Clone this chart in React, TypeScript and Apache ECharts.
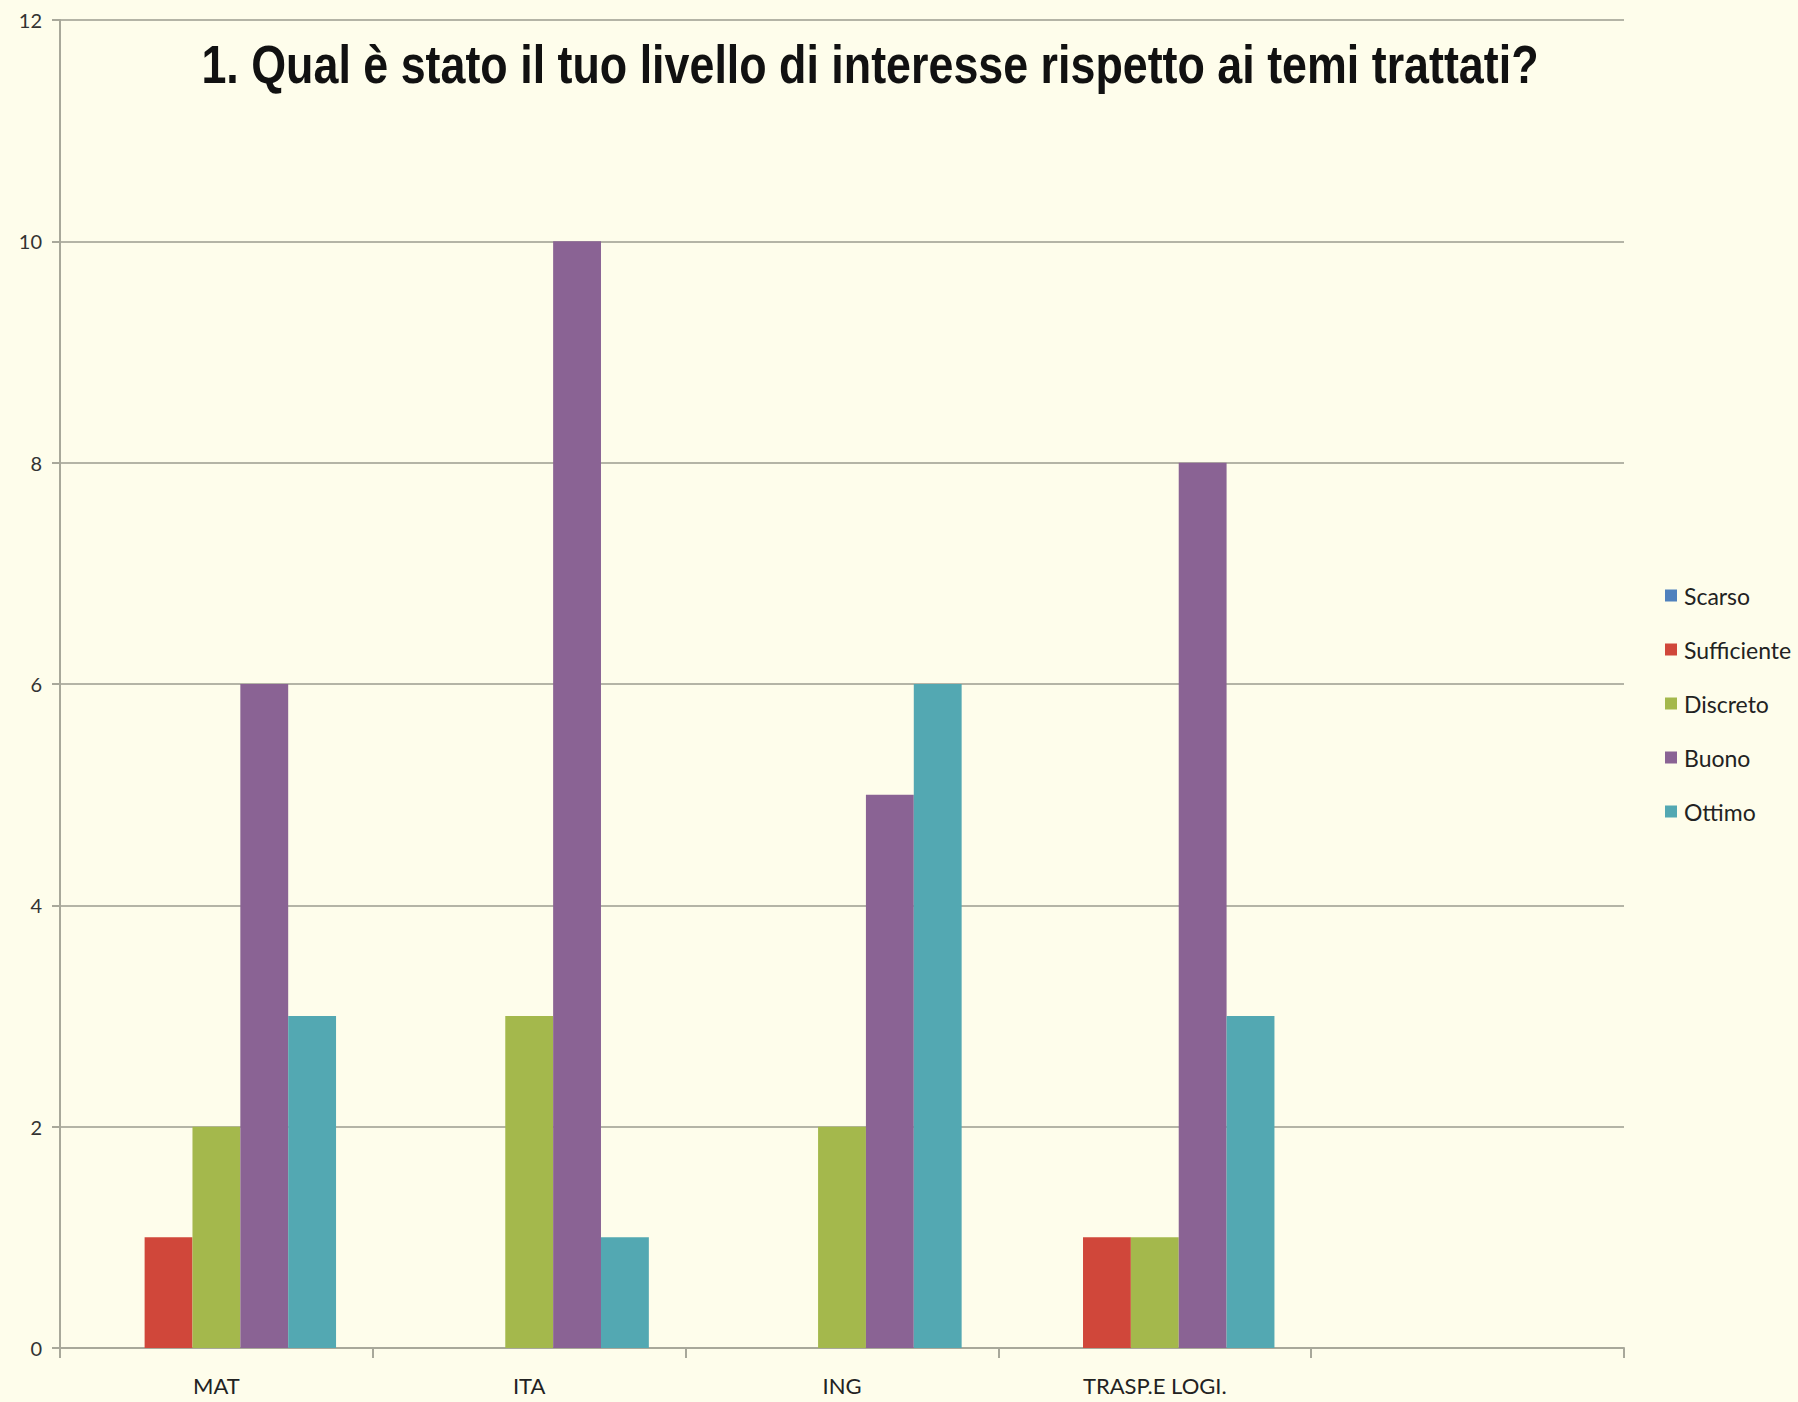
import React, { useEffect, useRef } from "react";
import * as echarts from "echarts";

const categories = ["MAT", "ITA", "ING", "TRASP.E LOGI.", ""];
const seriesNames = ["Scarso", "Sufficiente", "Discreto", "Buono", "Ottimo"];
const scarso = [0, 0, 0, 0, null];
const sufficiente = [1, 0, 0, 1, null];
const discreto = [2, 3, 2, 1, null];
const buono = [6, 10, 5, 8, null];
const ottimo = [3, 1, 6, 3, null];
const colors = ["#4F81BD", "#D0473A", "#A4B84C", "#8A6394", "#53A8B2"];
const yTicks = [0, 2, 4, 6, 8, 10, 12];
const titleText = "1. Qual è stato il tuo livello di interesse rispetto ai temi trattati?";

export default function App() {
  const ref = useRef<HTMLDivElement>(null);
  useEffect(() => {
    if (!ref.current) return;
    const chart = echarts.init(ref.current, undefined, { renderer: "svg" });
    const values = [scarso, sufficiente, discreto, buono, ottimo];
    chart.setOption({
      animation: false,
      backgroundColor: "#FEFDEB",
      color: colors,
      graphic: [
        {
          type: "text",
          x: 870,
          y: 65,
          scaleX: 0.83,
          style: {
            text: titleText,
            fontFamily: "Liberation Sans",
            fontWeight: "bold",
            fontSize: 54,
            fill: "#111111",
            textAlign: "center",
            textVerticalAlign: "middle",
          },
        },
      ],
      legend: {
        orient: "vertical",
        left: 1660,
        top: 579,
        itemWidth: 12,
        itemHeight: 12,
        itemGap: 31,
        icon: "rect",
        data: seriesNames,
        textStyle: { fontFamily: "Lato", fontSize: 23, color: "#222222", padding: [0, 0, 0, 2] },
      },
      grid: { left: 60, right: 174, top: 20, bottom: 54, containLabel: false },
      xAxis: {
        type: "category",
        data: categories,
        axisLine: { lineStyle: { color: "#A8A89A", width: 2 } },
        axisTick: { show: true, length: 10, lineStyle: { color: "#A8A89A", width: 2 } },
        axisLabel: { fontFamily: "Lato", fontSize: 22, color: "#222222", margin: 26 },
      },
      yAxis: {
        type: "value",
        min: yTicks[0],
        max: yTicks[yTicks.length - 1],
        interval: 2,
        axisLine: { show: true, lineStyle: { color: "#A8A89A", width: 2 } },
        axisTick: { show: true, length: 8, lineStyle: { color: "#A8A89A", width: 2 } },
        axisLabel: { fontFamily: "Lato", fontSize: 20, color: "#333333", margin: 18 },
        splitLine: { show: true, lineStyle: { color: "#B4B4A6", width: 2 } },
      },
      series: seriesNames.map((name, i) => ({
        name,
        type: "bar",
        data: values[i],
        barGap: "0%",
        barCategoryGap: "23.5%",
        itemStyle: { color: colors[i] },
      })),
    });
    return () => chart.dispose();
  }, []);
  return (
    <div
      ref={ref}
      style={{ position: "fixed", left: 0, top: 0, width: 1798, height: 1402 }}
    />
  );
}
